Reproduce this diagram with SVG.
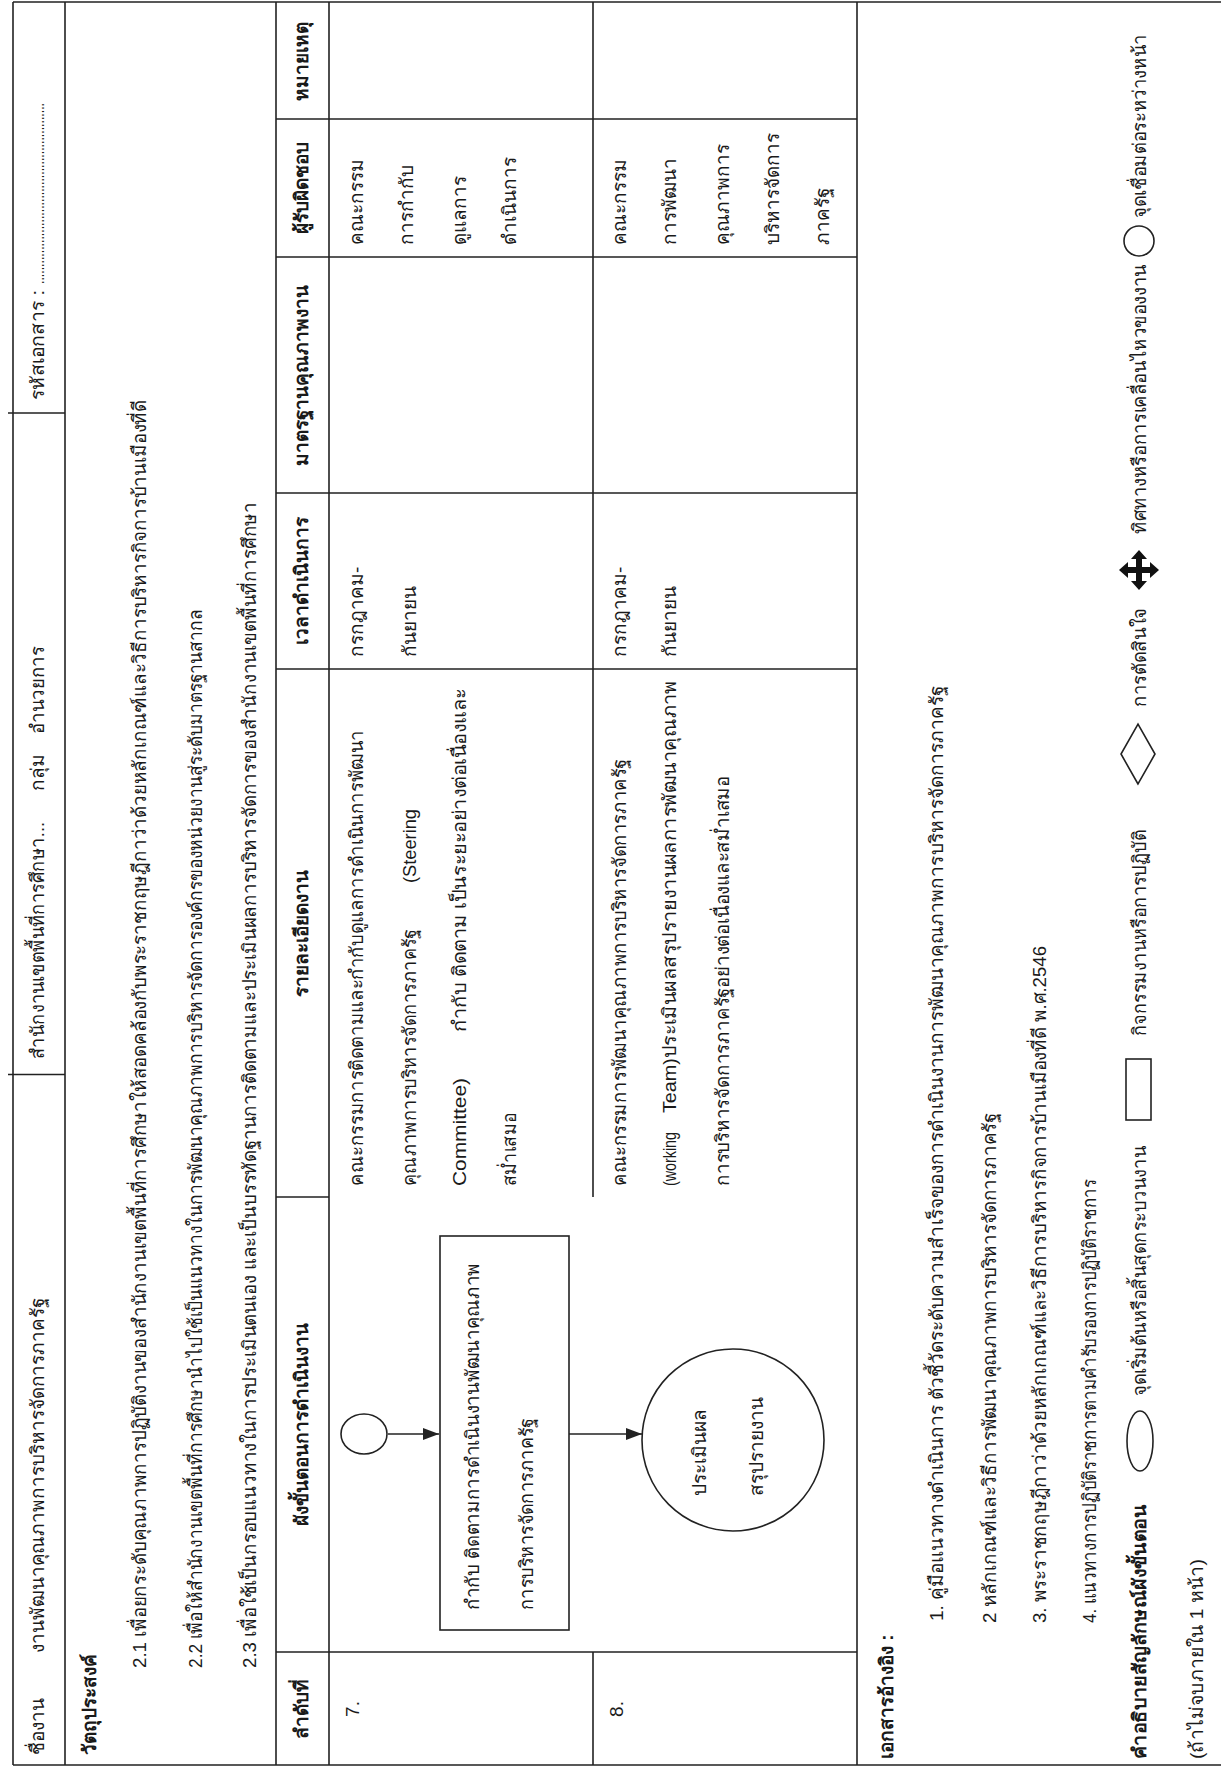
<svg xmlns="http://www.w3.org/2000/svg" width="1221" height="1769" viewBox="0 0 1221 1769">
<style>
.t{font-family:"Liberation Sans","Noto Sans",sans-serif;font-size:19px;fill:#1a1a1a}
.b{font-weight:bold}
.m{text-anchor:middle}
.ln{stroke:#222;stroke-width:1.6;fill:none}
.sh{stroke:#222;stroke-width:1.6;fill:#fff}
.cn{stroke:#222;stroke-width:1.4;fill:none}
</style>
<defs>
<marker id="ah" viewBox="0 0 16 12" refX="16" refY="6" markerWidth="16" markerHeight="12" markerUnits="userSpaceOnUse" orient="auto"><path d="M0,0 L16,6 L0,12 z" fill="#222"/></marker>
</defs>
<rect width="1221" height="1769" fill="#fff"/>
<g transform="matrix(0,-1,1,0,0,1769)">
<g id="grid" class="ln">
<path d="M4,13 L4,1221 M1767,13 L1767,1221 M4,13 L1767,13 M4,65 L1767,65 M4,276 L1767,276 M4,329 L1767,329 M4,593 L117,593 M572,593 L1767,593 M4,857 L1767,857"/>
<path d="M694.5,8 L694.5,65 M1356,8 L1356,65"/>
<path d="M117,276 L117,857 M572,276 L572,329 M1100,276 L1100,857 M1276,276 L1276,857 M1512,276 L1512,857 M1650,276 L1650,857"/>
</g>
<g id="header">
<text class="t" x="14" y="44">ชื่องาน</text>
<text class="t" x="116" y="44" textLength="355" lengthAdjust="spacingAndGlyphs">งานพัฒนาคุณภาพการบริหารจัดการภาครัฐ</text>
<text class="t" x="710" y="44" textLength="237" lengthAdjust="spacingAndGlyphs">สำนักงานเขตพื้นที่การศึกษา...</text>
<text class="t" x="978" y="44">กลุ่ม</text>
<text class="t" x="1035" y="44" textLength="88" lengthAdjust="spacingAndGlyphs">อำนวยการ</text>
<text class="t" x="1369" y="44" textLength="110" lengthAdjust="spacingAndGlyphs">รหัสเอกสาร :</text>
<text class="t" x="1485" y="44" textLength="181" lengthAdjust="spacingAndGlyphs">.....................................................</text>
</g>
<g id="objectives">
<text class="t b" x="14" y="96" textLength="101" lengthAdjust="spacingAndGlyphs">วัตถุประสงค์</text>
<text class="t" x="101" y="146" textLength="1268" lengthAdjust="spacingAndGlyphs">2.1 เพื่อยกระดับคุณภาพการปฏิบัติงานของสำนักงานเขตพื้นที่การศึกษาให้สอดคล้องกับพระราชกฤษฎีกาว่าด้วยหลักเกณฑ์และวิธีการบริหารกิจการบ้านเมืองที่ดี</text>
<text class="t" x="101" y="202" textLength="1059" lengthAdjust="spacingAndGlyphs">2.2 เพื่อให้สำนักงานเขตพื้นที่การศึกษานำไปใช้เป็นแนวทางในการพัฒนาคุณภาพการบริหารจัดการองค์กรของหน่วยงานสู่ระดับมาตรฐานสากล</text>
<text class="t" x="101" y="256" textLength="1166" lengthAdjust="spacingAndGlyphs">2.3 เพื่อใช้เป็นกรอบแนวทางในการประเมินตนเอง และเป็นบรรทัดฐานการติดตามและประเมินผลการบริหารจัดการของสำนักงานเขตพื้นที่การศึกษา</text>
</g>
<g id="column-headers">
<text class="t b m" x="60" y="308">ลำดับที่</text>
<text class="t b m" x="345" y="308">ผังขั้นตอนการดำเนินงาน</text>
<text class="t b m" x="836" y="308">รายละเอียดงาน</text>
<text class="t b m" x="1188" y="308">เวลาดำเนินการ</text>
<text class="t b m" x="1394" y="308">มาตรฐานคุณภาพงาน</text>
<text class="t b m" x="1581" y="308">ผู้รับผิดชอบ</text>
<text class="t b m" x="1708" y="308">หมายเหตุ</text>
</g>
<g id="row7">
<text class="t m" x="60" y="359">7.</text>
<text class="t" x="583" y="363" textLength="456" lengthAdjust="spacingAndGlyphs">คณะกรรมการติดตามและกำกับดูแลการดำเนินการพัฒนา</text>
<text class="t" x="583" y="416" textLength="257" lengthAdjust="spacingAndGlyphs">คุณภาพการบริหารจัดการภาครัฐ</text>
<text class="t" x="886" y="416" textLength="74" lengthAdjust="spacingAndGlyphs">(Steering</text>
<text class="t" x="583" y="466" textLength="108" lengthAdjust="spacingAndGlyphs">Committee)</text>
<text class="t" x="737" y="466" textLength="344" lengthAdjust="spacingAndGlyphs">กำกับ  ติดตาม  เป็นระยะอย่างต่อเนื่องและ</text>
<text class="t" x="583" y="516" textLength="73" lengthAdjust="spacingAndGlyphs">สม่ำเสมอ</text>
<text class="t" x="1112" y="363">กรกฎาคม-</text>
<text class="t" x="1112" y="416">กันยายน</text>
<text class="t" x="1524" y="363">คณะกรรม</text>
<text class="t" x="1524" y="413">การกำกับ</text>
<text class="t" x="1524" y="466">ดูแลการ</text>
<text class="t" x="1524" y="516">ดำเนินการ</text>
</g>
<g id="row8">
<text class="t m" x="60" y="623">8.</text>
<text class="t" x="583" y="626" textLength="427" lengthAdjust="spacingAndGlyphs">คณะกรรมการพัฒนาคุณภาพการบริหารจัดการภาครัฐ</text>
<text class="t" x="583" y="676" textLength="54" lengthAdjust="spacingAndGlyphs">(working</text>
<text class="t" x="656" y="676" textLength="433" lengthAdjust="spacingAndGlyphs">Team)ประเมินผลสรุปรายงานผลการพัฒนาคุณภาพ</text>
<text class="t" x="583" y="729" textLength="410" lengthAdjust="spacingAndGlyphs">การบริหารจัดการภาครัฐอย่างต่อเนื่องและสม่ำเสมอ</text>
<text class="t" x="1112" y="626">กรกฎาคม-</text>
<text class="t" x="1112" y="676">กันยายน</text>
<text class="t" x="1524" y="626">คณะกรรม</text>
<text class="t" x="1524" y="676">การพัฒนา</text>
<text class="t" x="1524" y="729">คุณภาพการ</text>
<text class="t" x="1524" y="779">บริหารจัดการ</text>
<text class="t" x="1524" y="829">ภาครัฐ</text>
</g>
<g id="connectors">
<path class="cn" d="M335,388 L335,439" marker-end="url(#ah)"/>
<path class="cn" d="M335,569 L335,642" marker-end="url(#ah)"/>
</g>
<g id="node-start">
<ellipse class="sh" cx="335" cy="364" rx="20" ry="23"/>
</g>
<g id="node-monitor">
<rect class="sh" x="139" y="440" width="394" height="129"/>
<text class="t" x="159" y="479" textLength="347" lengthAdjust="spacingAndGlyphs">กำกับ  ติดตามการดำเนินงานพัฒนาคุณภาพ</text>
<text class="t" x="159" y="533" textLength="192" lengthAdjust="spacingAndGlyphs">การบริหารจัดการภาครัฐ</text>
</g>
<g id="node-end">
<circle class="sh" cx="329" cy="733" r="91"/>
<text class="t" x="273" y="706">ประเมินผล</text>
<text class="t" x="273" y="763">สรุปรายงาน</text>
</g>
<g id="references">
<text class="t b" x="10" y="893">เอกสารอ้างอิง :</text>
<text class="t" x="148" y="943" textLength="935" lengthAdjust="spacingAndGlyphs">1. คู่มือแนวทางดำเนินการ ตัวชี้วัดระดับความสำเร็จของการดำเนินงานการพัฒนาคุณภาพการบริหารจัดการภาครัฐ</text>
<text class="t" x="146" y="996" textLength="510" lengthAdjust="spacingAndGlyphs">2  หลักเกณฑ์และวิธีการพัฒนาคุณภาพการบริหารจัดการภาครัฐ</text>
<text class="t" x="146" y="1046" textLength="677" lengthAdjust="spacingAndGlyphs">3.  พระราชกฤษฎีกาว่าด้วยหลักเกณฑ์และวิธีการบริหารกิจการบ้านเมืองที่ดี พ.ศ.2546</text>
<text class="t" x="146" y="1096" textLength="444" lengthAdjust="spacingAndGlyphs">4. แนวทางการปฏิบัติราชการตามคำรับรองการปฏิบัติราชการ</text>
</g>
<g id="legend">
<text class="t b" x="10" y="1146" textLength="254" lengthAdjust="spacingAndGlyphs">คำอธิบายสัญลักษณ์ผังขั้นตอน</text>
<ellipse class="sh" cx="328" cy="1140" rx="30" ry="13"/>
<text class="t" x="373" y="1146" textLength="250" lengthAdjust="spacingAndGlyphs">จุดเริ่มต้นหรือสิ้นสุดกระบวนงาน</text>
<rect class="sh" x="649" y="1126" width="61" height="25"/>
<text class="t" x="733" y="1146" textLength="206" lengthAdjust="spacingAndGlyphs">กิจกรรมงานหรือการปฏิบัติ</text>
<polygon class="sh" points="985,1138 1015,1121 1045,1138 1015,1155"/>
<text class="t" x="1062" y="1146" textLength="99" lengthAdjust="spacingAndGlyphs">การตัดสินใจ</text>
<path transform="translate(1199,1139)" fill="#111" d="M-20,0 L-11,-8 L-11,-3 L-3,-3 L-3,-11 L-8,-11 L0,-20 L8,-11 L3,-11 L3,-3 L11,-3 L11,-8 L20,0 L11,8 L11,3 L3,3 L3,11 L8,11 L0,20 L-8,11 L-3,11 L-3,3 L-11,3 L-11,8 Z"/>
<text class="t" x="1235" y="1146" textLength="270" lengthAdjust="spacingAndGlyphs">ทิศทางหรือการเคลื่อนไหวของงาน</text>
<circle class="sh" cx="1528" cy="1139" r="15"/>
<text class="t" x="1551" y="1146" textLength="184" lengthAdjust="spacingAndGlyphs">จุดเชื่อมต่อระหว่างหน้า</text>
<text class="t" x="10" y="1203" textLength="200" lengthAdjust="spacingAndGlyphs">(ถ้าไม่จบภายใน 1 หน้า)</text>
</g>
</g>
</svg>
